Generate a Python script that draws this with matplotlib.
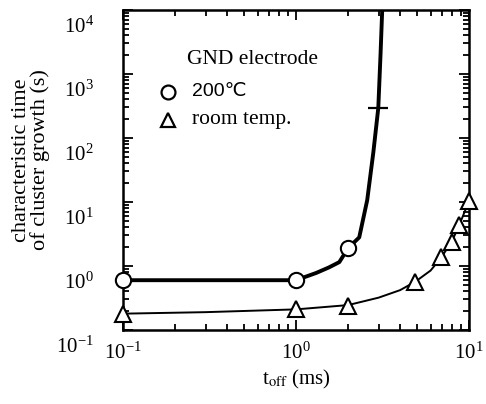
import matplotlib
matplotlib.use("Agg")
import matplotlib.pyplot as plt
import matplotlib.transforms as mtransforms
from matplotlib.ticker import LogLocator, NullFormatter

plt.rcParams['font.family'] = ['Liberation Serif', 'DejaVu Serif']
plt.rcParams['mathtext.fontset'] = 'stix'

# 200 C data (circles)
hot_x = [0.1, 1.0, 2.0]
hot_y = [0.6, 0.6, 1.9]
# 200 C fitted curve
hot_curve_x = [0.1, 0.3, 1.0, 1.31, 1.55, 1.78, 2.0, 2.32, 2.58, 2.8, 2.99, 3.08, 3.15]
hot_curve_y = [0.6, 0.6, 0.6, 0.78, 0.95, 1.15, 1.9, 2.8, 10.7, 60, 295, 2000, 10000]
# '+' mark on the 200 C curve
cross_x = [2.99]
cross_y = [295]

# room temperature data (triangles)
rt_x = [0.1, 1.0, 2.0, 4.9, 6.9, 7.95, 8.8, 10.0]
rt_y = [0.18, 0.21, 0.24, 0.57, 1.4, 2.4, 4.4, 10.4]
# room temperature fitted curve
rt_curve_x = [0.1, 0.3, 1.0, 2.0, 3.0, 4.0, 4.9, 6.0, 6.9, 7.95, 8.8, 10.0]
rt_curve_y = [0.18, 0.19, 0.21, 0.245, 0.32, 0.42, 0.57, 0.85, 1.35, 2.4, 4.4, 10.4]

xlim = [0.1, 10]
ylim = [0.1, 1e4]
xlabel = r't$_{\rm off}$ (ms)'
ylabel = 'characteristic time\nof cluster growth (s)'
legend_title = 'GND electrode'
legend_labels = ['200℃', 'room temp.']

W, H = 486, 404
L, R, T, B = 123, 469, 10, 330

fig = plt.figure(figsize=(W/100, H/100), dpi=100)
ax = fig.add_axes([L/W, 1-B/H, (R-L)/W, (B-T)/H])

ax.plot(hot_curve_x, hot_curve_y, color='black', lw=2.8, zorder=2)
ax.plot(rt_curve_x, rt_curve_y, color='black', lw=1.4, zorder=2)
ax.plot(hot_x, hot_y, 'o', ms=11, mfc='white', mec='black', mew=1.5, zorder=3, clip_on=False)
ax.plot(rt_x, rt_y, '^', ms=11, mfc='white', mec='black', mew=1.5, zorder=3, clip_on=False)
ax.plot(cross_x, cross_y, '_', ms=14, mew=1.6, color='black', zorder=3)

ax.set_xscale('log')
ax.set_yscale('log')
ax.set_xlim(xlim)
ax.set_ylim(ylim)

ax.xaxis.set_major_locator(LogLocator(base=10, numticks=10))
ax.yaxis.set_major_locator(LogLocator(base=10, numticks=10))
ax.xaxis.set_minor_locator(LogLocator(base=10, subs=range(2, 10), numticks=20))
ax.yaxis.set_minor_locator(LogLocator(base=10, subs=range(2, 10), numticks=20))
ax.xaxis.set_minor_formatter(NullFormatter())
ax.yaxis.set_minor_formatter(NullFormatter())

ax.tick_params(which='both', direction='in', top=True, right=True, width=1.3, labelsize=15)
ax.tick_params(which='major', length=7)
ax.tick_params(which='minor', length=4)
ax.tick_params(axis='y', pad=21)
ax.tick_params(axis='x', pad=9)
for s in ax.spines.values():
    s.set_linewidth(1.8)

offset = mtransforms.ScaledTranslation(0, -10.5/72, fig.dpi_scale_trans)
for lab in ax.get_yticklabels():
    lab.set_transform(lab.get_transform() + offset)

ax.set_xlabel(xlabel, fontsize=15, labelpad=3)
fig.text(31/W, 1-160/H, ylabel, rotation=90, ha='center', va='center',
         fontsize=16, linespacing=0.95)

def ax_pos(px, py):
    return (px-L)/(R-L), 1-(py-T)/(B-T)

ax.text(*ax_pos(187, 60), legend_title, transform=ax.transAxes,
        fontsize=15.5, va='center', ha='left')
ax.plot(*[[v] for v in ax_pos(168, 92)], 'o', ms=10, mfc='white', mec='black', mew=1.6,
        transform=ax.transAxes)
ax.plot(*[[v] for v in ax_pos(168, 120)], '^', ms=10, mfc='white', mec='black', mew=1.6,
        transform=ax.transAxes)
ax.text(*ax_pos(192, 92), legend_labels[0], transform=ax.transAxes,
        fontsize=14, va='center', ha='left', family=['Liberation Sans', 'DejaVu Sans'])
ax.text(*ax_pos(192, 120), legend_labels[1], transform=ax.transAxes,
        fontsize=15.5, va='center', ha='left')

fig.savefig('out.png', dpi=100)
